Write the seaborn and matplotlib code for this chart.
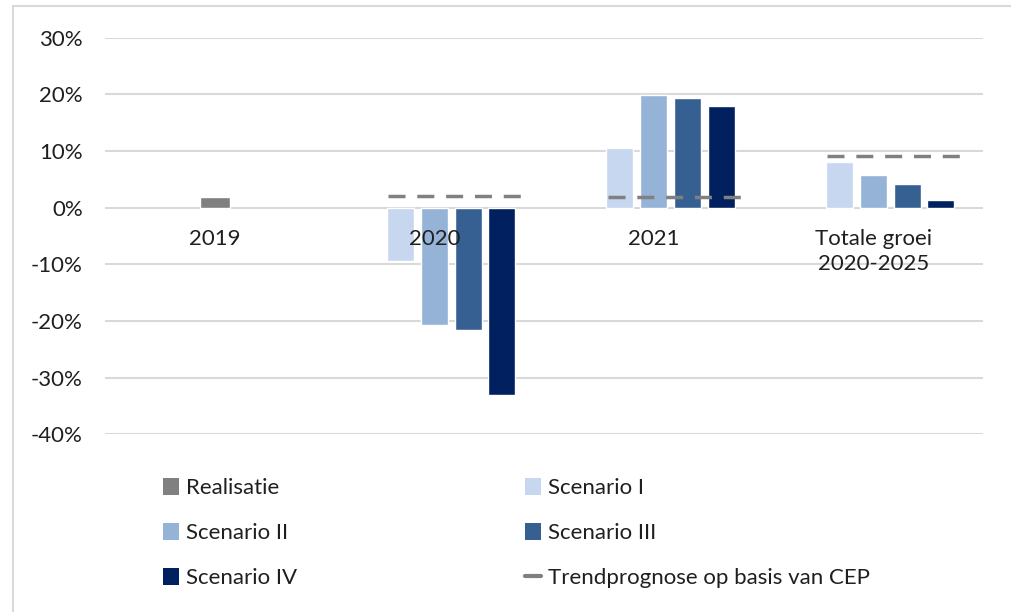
import numpy as np
import pandas as pd
import matplotlib
matplotlib.use('Agg')
import matplotlib.pyplot as plt
import seaborn as sns
from matplotlib.patches import Patch, Rectangle
from matplotlib.lines import Line2D
from matplotlib.ticker import PercentFormatter

categories = ['2019', '2020', '2021', 'Totale groei\n2020-2025']
scenarios = ['Scenario I', 'Scenario II', 'Scenario III', 'Scenario IV']
realisatie_2019 = 0.019
scenario_2020 = [-0.094, -0.207, -0.216, -0.331]
scenario_2021 = [0.105, 0.199, 0.193, 0.179]
scenario_totaal = [0.081, 0.057, 0.042, 0.013]
trend_cats = ['2020', '2021', 'Totale groei\n2020-2025']
trend_values = [0.021, 0.019, 0.091]
yticks = [-0.4, -0.3, -0.2, -0.1, 0.0, 0.1, 0.2, 0.3]

colors = {'Realisatie': '#808080', 'Scenario I': '#c6d7ef', 'Scenario II': '#95b3d7',
          'Scenario III': '#376092', 'Scenario IV': '#002060'}
trend_color = '#808080'
text_color = '#1f1f1f'

rows = []
for cat, vals in zip(categories[1:], [scenario_2020, scenario_2021, scenario_totaal]):
    for sc, v in zip(scenarios, vals):
        rows.append({'categorie': cat, 'scenario': sc, 'waarde': v})
df = pd.DataFrame(rows)

sns.set_theme(style='white')
plt.rcParams['font.family'] = ['Lato', 'DejaVu Sans']
plt.rcParams['axes.unicode_minus'] = False

fig = plt.figure(figsize=(10.11, 6.12), dpi=100)
ax = fig.add_axes([105 / 1011, 1 - 434.3 / 612, 878 / 1011, (434.3 - 37.7) / 612])

# Realisatie alleen in 2019, in het midden van de categorie
sns.barplot(x=['2019'], y=[realisatie_2019], order=categories, color=colors['Realisatie'],
            width=0.137, saturation=1, ax=ax)

# scenario's: de eerste hue-plek blijft leeg (zoals in Excel voor Realisatie)
sns.barplot(data=df, x='categorie', y='waarde', hue='scenario', order=categories,
            hue_order=['Realisatie'] + scenarios, palette=colors, width=0.77, gap=0.2,
            saturation=1, legend=False, ax=ax)

for cat, v in zip(trend_cats, trend_values):
    i = categories.index(cat)
    ax.hlines(v, i - 0.21, i + 0.40, color=trend_color, lw=2.5,
              linestyles=[(0, (4.9, 3.4))], zorder=4)

ax.set_ylim(-0.4, 0.3)
ax.set_xlim(-0.5, 3.5)
ax.set_yticks(yticks)
ax.yaxis.set_major_formatter(PercentFormatter(1.0, decimals=0))
ax.grid(axis='y', color='#d9d9d9', lw=1.5)
ax.set_axisbelow(True)
ax.xaxis.set_zorder(5)
for s in ['left', 'right', 'top']:
    ax.spines[s].set_visible(False)
ax.spines['bottom'].set_position(('data', 0))
ax.spines['bottom'].set_visible(False)
ax.tick_params(axis='y', length=0, pad=16, labelsize=16, labelcolor=text_color)
ax.tick_params(axis='x', length=0, pad=15, labelsize=16, labelcolor=text_color)
for lbl in ax.get_xticklabels():
    lbl.set_linespacing(1.35)
ax.set_xlabel('')
ax.set_ylabel('')

def patch(name):
    return Patch(facecolor=colors[name], edgecolor='none')

trend_handle = Line2D([0], [0], color=trend_color, lw=3)
legend_kw = dict(frameon=False, fontsize=16, loc='center left', borderpad=0, borderaxespad=0,
                 handlelength=0.7, handleheight=0.8, handletextpad=0.35, labelspacing=1.13,
                 labelcolor=text_color)
leg1 = fig.legend([patch('Realisatie'), patch('Scenario II'), patch('Scenario IV')],
                  ['Realisatie', 'Scenario II', 'Scenario IV'],
                  bbox_to_anchor=(163 / 1011, 1 - 533 / 612), **legend_kw)
leg2 = fig.legend([patch('Scenario I'), patch('Scenario III'), trend_handle],
                  ['Scenario I', 'Scenario III', 'Trendprognose op basis van CEP'],
                  bbox_to_anchor=(525 / 1011, 1 - 533 / 612), **legend_kw)

fig.add_artist(Rectangle((13 / 1011, -0.2), 1.2, 1.2 - 6 / 612, transform=fig.transFigure,
                         fill=False, edgecolor='#d9d9d9', lw=1.5))

fig.savefig('out.png', dpi=100)
